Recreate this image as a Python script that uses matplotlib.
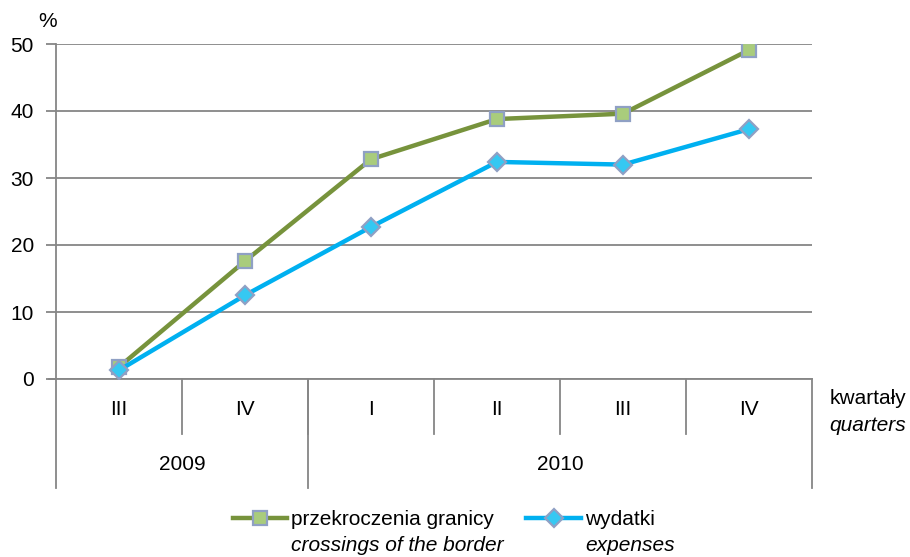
import numpy as np
import matplotlib
matplotlib.use("Agg")
import matplotlib.pyplot as plt
import matplotlib.transforms as mtransforms

plt.rcParams['font.family'] = ['Liberation Sans', 'DejaVu Sans']

# --- dane
quarters = ["III", "IV", "I", "II", "III", "IV"]
years = ["2009", "2010"]
year_span = [2, 4]              # ile kwartałów w danym roku
crossings = [1.8, 17.6, 32.8, 38.8, 39.6, 49.1]
expenses = [1.3, 12.5, 22.7, 32.4, 32.0, 37.3]

GRID = "#868686"
GREEN = "#77933c"
BLUE = "#00b0f0"
FS = 15

fig = plt.figure(figsize=(9.1, 5.57), dpi=100)
ax = fig.add_axes([56 / 910, 1 - 379 / 557, (812 - 56) / 910, (379 - 44) / 557])

x = np.arange(len(quarters))
ax.plot(x, crossings, color=GREEN, lw=3.2, marker="s", ms=10.5,
        mfc="#a9cc7c", mec="#8fa0c4", mew=1.6, zorder=3,
        label="przekroczenia granicy")
ax.plot(x, expenses, color=BLUE, lw=3.2, marker="D", ms=9.5,
        mfc="#35c8f2", mec="#8fa0c4", mew=1.6, zorder=3,
        label="wydatki")

ax.set_xlim(-0.5, len(quarters) - 0.5)
ax.set_ylim(0, 50)
ax.set_yticks(range(0, 51, 10))
ax.yaxis.grid(True, color=GRID, lw=1.3)
ax.set_axisbelow(True)
for s in ["top", "right", "bottom"]:
    ax.spines[s].set_visible(False)
ax.spines["left"].set_color(GRID)
ax.spines["left"].set_linewidth(1.3)
ax.tick_params(axis="y", length=7, width=1.3, color=GRID, labelsize=FS, pad=9)
ax.tick_params(axis="x", length=0, labelbottom=False)

# oś kategorii dwupoziomowa
trans = mtransforms.blended_transform_factory(ax.transData, ax.transAxes)
ax.plot([-0.5 - 0.055, len(quarters) - 0.5], [0, 0], color=GRID, lw=1.3,
        transform=trans, clip_on=False)
lvl1, lvl2 = -0.165, -0.325
for i, q in enumerate(quarters):
    ax.text(i, -0.09, q, transform=trans, ha="center", va="center", fontsize=FS)
for b in range(1, len(quarters)):
    ax.plot([b - 0.5, b - 0.5], [0, lvl1], color=GRID, lw=1.3,
            transform=trans, clip_on=False)
start = 0
bounds = [0]
for y, n in zip(years, year_span):
    ax.text(start + n / 2 - 0.5, -0.255, y, transform=trans, ha="center",
            va="center", fontsize=FS)
    start += n
    bounds.append(start)
for b in bounds:
    ax.plot([b - 0.5, b - 0.5], [0, lvl2], color=GRID, lw=1.3,
            transform=trans, clip_on=False)

ax.text(len(quarters) - 0.36, -0.058, "kwartały", transform=trans,
        ha="left", va="center", fontsize=FS)
ax.text(len(quarters) - 0.36, -0.14, "quarters", transform=trans,
        ha="left", va="center", fontsize=FS, style="italic")
ax.text(-0.011, 1.04, "%", transform=ax.transAxes, ha="center", va="bottom",
        fontsize=FS)

leg = ax.legend(loc="upper center", bbox_to_anchor=(0.513, -0.36), ncol=2,
                frameon=False, fontsize=FS, handlelength=2.6,
                columnspacing=1.55, handletextpad=0.2, borderpad=0)
fig.canvas.draw()
for t, sub in zip(leg.get_texts(), ["crossings of the border", "expenses"]):
    ax.annotate(sub, xy=(0, 0), xycoords=t, xytext=(0, -5),
                textcoords="offset points", ha="left", va="top",
                fontsize=FS, style="italic", annotation_clip=False)

fig.savefig("out.png", dpi=100)
